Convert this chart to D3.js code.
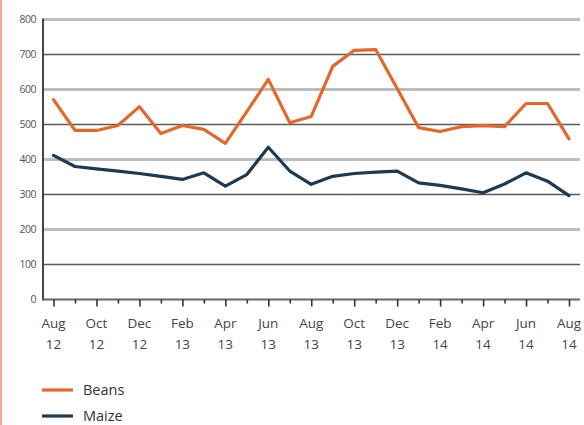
<!DOCTYPE html>
<html><head><meta charset="utf-8">
<script src="https://cdn.jsdelivr.net/npm/d3@7"></script>
<style>
html,body{margin:0;padding:0;background:#fff;}
svg{display:block;}
</style></head>
<body>
<svg id="chart" width="584" height="425"></svg>
<script>
const months = ["Aug 12","Sep 12","Oct 12","Nov 12","Dec 12","Jan 13","Feb 13","Mar 13","Apr 13","May 13","Jun 13","Jul 13","Aug 13","Sep 13","Oct 13","Nov 13","Dec 13","Jan 14","Feb 14","Mar 14","Apr 14","May 14","Jun 14","Jul 14","Aug 14"];
const beans = [571,483,483,497,551,474,497,486,446,537,629,505,523,666,712,714,603,491,480,494,497,494,560,560,459];
const maize = [412,380,373,367,360,352,343,362,324,357,435,367,329,352,360,364,367,333,326,316,305,330,362,338,297];
const yTicks = [0,100,200,300,400,500,600,700,800];
const seriesNames = ["Beans","Maize"];
const seriesColors = ["#e2692b","#1d3a50"];

const svg = d3.select("#chart");
const x0 = 53.5, x1 = 569, y0 = 299.5, y1 = 19.5;
const x = d3.scaleLinear().domain([0, months.length-1]).range([x0, x1]);
const y = d3.scaleLinear().domain([0, 800]).range([y0, y1]);

// left border
svg.append("rect").attr("x",0).attr("y",0).attr("width",2).attr("height",425).attr("fill","#f3a983");

// gridlines
svg.append("g").selectAll("line").data(yTicks.filter(d=>d>0)).join("line")
  .attr("x1",43).attr("x2",580)
  .attr("y1",d=>y(d)).attr("y2",d=>y(d))
  .attr("stroke",d=>(d/100)%2===0?"#bdbdbd":"#5a5a5a")
  .attr("stroke-width",d=>(d/100)%2===0?3:1.6);

// y axis labels
const yAxis = d3.axisLeft(y).tickValues(yTicks).tickSize(0).tickPadding(7);
const gy = svg.append("g").attr("transform","translate(43,0)").call(yAxis);
gy.select(".domain").remove();
gy.selectAll("text").attr("font-family","'Open Sans', sans-serif").attr("font-size",10.5)
  .attr("fill","#555").attr("letter-spacing","-0.5");

// y axis line
svg.append("line").attr("x1",43).attr("x2",43).attr("y1",y1-1).attr("y2",y0+1)
  .attr("stroke","#444").attr("stroke-width",2);

// x axis
const gx = svg.append("g").attr("transform",`translate(0,${y0})`);
gx.append("line").attr("x1",42).attr("x2",580).attr("y1",0).attr("y2",0)
  .attr("stroke","#666").attr("stroke-width",2.2);
const xAxis = d3.axisBottom(x).tickValues(d3.range(months.length)).tickSize(0).tickFormat("");
const gxa = svg.append("g").attr("transform",`translate(0,${y0})`).call(xAxis);
gxa.select(".domain").remove();
gxa.selectAll(".tick line").attr("y1",0).attr("y2",(d,i)=>i%2===0?7:4)
  .attr("stroke","#333").attr("stroke-width",1.6);
const labelIdx = d3.range(0, months.length, 2);
const lbl = svg.append("g").selectAll("text").data(labelIdx).join("text")
  .attr("x",d=>x(d)).attr("text-anchor","middle")
  .attr("font-family","'Open Sans', sans-serif").attr("font-size",13.5).attr("fill","#444");
lbl.append("tspan").attr("x",d=>x(d)).attr("y",328).text(d=>months[d].split(" ")[0]);
lbl.append("tspan").attr("x",d=>x(d)).attr("y",349).text(d=>months[d].split(" ")[1]);

// lines
const line = d3.line().x((d,i)=>x(i)).y(d=>y(d)).curve(d3.curveLinear);
[beans, maize].forEach((s,k)=>{
  svg.append("path").datum(s).attr("d",line).attr("fill","none")
    .attr("stroke",seriesColors[k]).attr("stroke-width",3.2)
    .attr("stroke-linejoin","round").attr("stroke-linecap","round");
});

// legend
const lg = svg.append("g").selectAll("g").data(seriesNames).join("g")
  .attr("transform",(d,i)=>`translate(42,${390+i*26})`);
lg.append("line").attr("x1",0).attr("x2",31).attr("y1",0).attr("y2",0)
  .attr("stroke",(d,i)=>seriesColors[i]).attr("stroke-width",3.2);
lg.append("text").attr("x",41).attr("y",5).text(d=>d)
  .attr("font-family","'Open Sans', sans-serif").attr("font-size",14.5).attr("fill","#333");
</script>
</body></html>
